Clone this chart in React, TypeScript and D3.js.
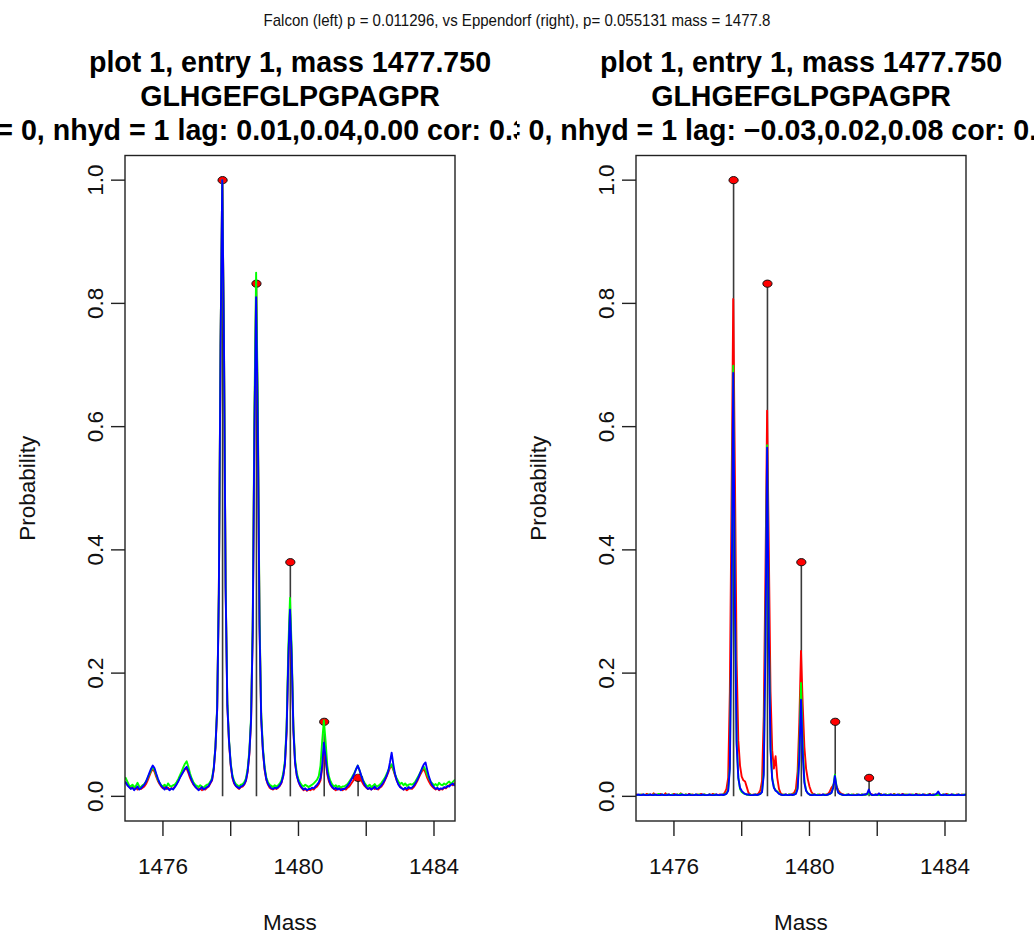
import React from "react";
import * as d3 from "d3";

// Spectra are sampled on a uniform mass grid.
const MASS_START = 1474.85;
const MASS_STEP = 0.05;

// Falcon replicates (left panel)
const falconRed = [
  0.024, 0.022, 0.019, 0.016, 0.013, 0.015, 0.012, 0.014, 0.011, 0.013,
  0.012, 0.014, 0.016, 0.020, 0.026, 0.033, 0.040, 0.045, 0.040, 0.032,
  0.025, 0.020, 0.016, 0.013, 0.015, 0.012, 0.014, 0.011, 0.013, 0.012,
  0.016, 0.020, 0.025, 0.031, 0.036, 0.040, 0.044, 0.045, 0.038, 0.030,
  0.024, 0.019, 0.016, 0.013, 0.011, 0.013, 0.010, 0.012, 0.011, 0.014,
  0.016, 0.021, 0.026, 0.044, 0.079, 0.140, 0.330, 0.730, 1.000, 0.745,
  0.340, 0.150, 0.088, 0.050, 0.030, 0.021, 0.017, 0.014, 0.012, 0.015,
  0.016, 0.019, 0.025, 0.040, 0.068, 0.120, 0.270, 0.600, 0.825, 0.620,
  0.285, 0.128, 0.074, 0.043, 0.027, 0.019, 0.014, 0.012, 0.011, 0.013,
  0.012, 0.014, 0.017, 0.022, 0.033, 0.052, 0.105, 0.220, 0.300, 0.225,
  0.108, 0.055, 0.034, 0.024, 0.017, 0.013, 0.010, 0.012, 0.009, 0.011,
  0.010, 0.012, 0.011, 0.014, 0.016, 0.020, 0.026, 0.045, 0.078, 0.058,
  0.036, 0.024, 0.018, 0.014, 0.012, 0.010, 0.012, 0.011, 0.013, 0.010,
  0.012, 0.011, 0.014, 0.016, 0.020, 0.024, 0.028, 0.032, 0.035, 0.031,
  0.026, 0.021, 0.017, 0.014, 0.012, 0.013, 0.011, 0.014, 0.012, 0.013,
  0.011, 0.014, 0.016, 0.020, 0.026, 0.032, 0.039, 0.046, 0.050, 0.043,
  0.034, 0.026, 0.020, 0.016, 0.013, 0.011, 0.012, 0.010, 0.012, 0.013,
  0.012, 0.015, 0.019, 0.024, 0.030, 0.036, 0.041, 0.045, 0.038, 0.030,
  0.024, 0.019, 0.016, 0.013, 0.011, 0.013, 0.010, 0.012, 0.011, 0.014,
  0.013, 0.016, 0.018, 0.020, 0.018, 0.021, 0.022,
];

const falconGreen = [
  0.028, 0.030, 0.024, 0.018, 0.016, 0.019, 0.015, 0.017, 0.022, 0.016,
  0.015, 0.018, 0.020, 0.024, 0.030, 0.036, 0.042, 0.048, 0.043, 0.035,
  0.027, 0.022, 0.018, 0.016, 0.019, 0.015, 0.021, 0.017, 0.016, 0.018,
  0.019, 0.023, 0.028, 0.034, 0.040, 0.047, 0.053, 0.057, 0.048, 0.037,
  0.029, 0.023, 0.019, 0.017, 0.015, 0.018, 0.016, 0.014, 0.017, 0.019,
  0.020, 0.024, 0.030, 0.047, 0.082, 0.145, 0.335, 0.735, 1.000, 0.750,
  0.345, 0.155, 0.092, 0.054, 0.034, 0.025, 0.020, 0.018, 0.016, 0.019,
  0.020, 0.023, 0.029, 0.045, 0.074, 0.128, 0.285, 0.630, 0.850, 0.640,
  0.295, 0.135, 0.080, 0.048, 0.031, 0.023, 0.019, 0.017, 0.015, 0.018,
  0.016, 0.018, 0.021, 0.026, 0.037, 0.058, 0.115, 0.240, 0.322, 0.240,
  0.115, 0.060, 0.038, 0.028, 0.022, 0.018, 0.016, 0.019, 0.017, 0.015,
  0.017, 0.019, 0.021, 0.024, 0.027, 0.033, 0.050, 0.090, 0.123, 0.090,
  0.050, 0.032, 0.024, 0.019, 0.016, 0.018, 0.015, 0.017, 0.014, 0.016,
  0.016, 0.018, 0.020, 0.024, 0.028, 0.033, 0.038, 0.044, 0.050, 0.042,
  0.034, 0.027, 0.022, 0.018, 0.016, 0.019, 0.015, 0.017, 0.020, 0.016,
  0.017, 0.019, 0.022, 0.026, 0.030, 0.036, 0.042, 0.048, 0.052, 0.044,
  0.036, 0.029, 0.024, 0.020, 0.022, 0.018, 0.021, 0.017, 0.019, 0.020,
  0.019, 0.021, 0.024, 0.029, 0.034, 0.039, 0.044, 0.048, 0.043, 0.035,
  0.029, 0.024, 0.021, 0.018, 0.020, 0.017, 0.022, 0.019, 0.018, 0.021,
  0.019, 0.022, 0.024, 0.020, 0.023, 0.026, 0.027,
];

const falconBlue = [
  0.020, 0.023, 0.018, 0.015, 0.012, 0.014, 0.010, 0.013, 0.016, 0.011,
  0.013, 0.016, 0.019, 0.024, 0.031, 0.038, 0.045, 0.050, 0.046, 0.037,
  0.029, 0.022, 0.017, 0.014, 0.011, 0.015, 0.012, 0.010, 0.013, 0.011,
  0.015, 0.019, 0.024, 0.030, 0.035, 0.040, 0.045, 0.048, 0.041, 0.033,
  0.026, 0.020, 0.016, 0.013, 0.010, 0.012, 0.015, 0.011, 0.013, 0.015,
  0.017, 0.022, 0.027, 0.045, 0.080, 0.142, 0.330, 0.730, 1.000, 0.740,
  0.338, 0.148, 0.090, 0.052, 0.032, 0.022, 0.017, 0.015, 0.013, 0.016,
  0.017, 0.020, 0.026, 0.041, 0.070, 0.122, 0.270, 0.595, 0.810, 0.600,
  0.278, 0.126, 0.075, 0.045, 0.028, 0.020, 0.016, 0.013, 0.012, 0.014,
  0.013, 0.015, 0.018, 0.023, 0.033, 0.053, 0.107, 0.222, 0.303, 0.226,
  0.108, 0.054, 0.034, 0.024, 0.018, 0.014, 0.011, 0.013, 0.010, 0.012,
  0.012, 0.014, 0.013, 0.016, 0.019, 0.023, 0.030, 0.050, 0.087, 0.064,
  0.040, 0.027, 0.019, 0.015, 0.012, 0.014, 0.011, 0.013, 0.010, 0.012,
  0.012, 0.014, 0.017, 0.021, 0.026, 0.031, 0.037, 0.044, 0.050, 0.043,
  0.034, 0.026, 0.019, 0.015, 0.012, 0.014, 0.011, 0.013, 0.016, 0.012,
  0.013, 0.015, 0.018, 0.022, 0.027, 0.033, 0.041, 0.055, 0.071, 0.052,
  0.036, 0.026, 0.019, 0.015, 0.013, 0.011, 0.014, 0.012, 0.015, 0.013,
  0.014, 0.017, 0.021, 0.026, 0.032, 0.039, 0.046, 0.052, 0.055, 0.043,
  0.032, 0.024, 0.018, 0.015, 0.012, 0.014, 0.011, 0.013, 0.012, 0.015,
  0.014, 0.017, 0.016, 0.019, 0.021, 0.018, 0.020,
];

// Eppendorf replicates (right panel)
const eppendorfRed = [
  0.002, 0.003, 0.002, 0.002, 0.003, 0.002, 0.002, 0.004, 0.002, 0.003,
  0.002, 0.005, 0.002, 0.003, 0.002, 0.004, 0.002, 0.002, 0.005, 0.002,
  0.003, 0.002, 0.002, 0.004, 0.002, 0.003, 0.002, 0.005, 0.002, 0.002,
  0.003, 0.002, 0.004, 0.002, 0.003, 0.002, 0.002, 0.003, 0.002, 0.004,
  0.002, 0.003, 0.002, 0.002, 0.003, 0.002, 0.004, 0.002, 0.003, 0.002,
  0.003, 0.002, 0.003, 0.006, 0.012, 0.030, 0.170, 0.480, 0.807, 0.520,
  0.220, 0.090, 0.050, 0.032, 0.026, 0.024, 0.015, 0.006, 0.003, 0.002,
  0.003, 0.002, 0.003, 0.005, 0.010, 0.025, 0.130, 0.360, 0.626, 0.400,
  0.170, 0.075, 0.045, 0.065, 0.030, 0.012, 0.005, 0.003, 0.002, 0.003,
  0.002, 0.003, 0.002, 0.004, 0.006, 0.012, 0.040, 0.120, 0.236, 0.150,
  0.080, 0.045, 0.028, 0.016, 0.008, 0.004, 0.003, 0.002, 0.002, 0.003,
  0.002, 0.003, 0.002, 0.003, 0.004, 0.008, 0.014, 0.018, 0.022, 0.016,
  0.010, 0.006, 0.004, 0.003, 0.002, 0.002, 0.003, 0.002, 0.002, 0.003,
  0.002, 0.003, 0.002, 0.002, 0.003, 0.002, 0.003, 0.004, 0.006, 0.004,
  0.003, 0.002, 0.002, 0.003, 0.002, 0.004, 0.002, 0.002, 0.003, 0.002,
  0.002, 0.003, 0.002, 0.004, 0.002, 0.002, 0.003, 0.002, 0.004, 0.002,
  0.003, 0.002, 0.002, 0.003, 0.002, 0.002, 0.004, 0.002, 0.003, 0.002,
  0.002, 0.003, 0.002, 0.002, 0.004, 0.002, 0.003, 0.002, 0.002, 0.003,
  0.002, 0.002, 0.003, 0.002, 0.004, 0.002, 0.002, 0.003, 0.002, 0.002,
  0.003, 0.002, 0.002, 0.003, 0.002, 0.002, 0.003,
];

const eppendorfGreen = [
  0.003, 0.002, 0.002, 0.003, 0.002, 0.003, 0.002, 0.002, 0.003, 0.002,
  0.002, 0.003, 0.002, 0.002, 0.004, 0.002, 0.003, 0.002, 0.002, 0.003,
  0.002, 0.002, 0.003, 0.002, 0.002, 0.003, 0.002, 0.004, 0.002, 0.002,
  0.003, 0.002, 0.002, 0.003, 0.002, 0.002, 0.003, 0.002, 0.003, 0.002,
  0.002, 0.003, 0.002, 0.002, 0.003, 0.002, 0.002, 0.003, 0.002, 0.002,
  0.002, 0.002, 0.003, 0.003, 0.005, 0.010, 0.050, 0.300, 0.699, 0.320,
  0.090, 0.030, 0.012, 0.007, 0.005, 0.004, 0.003, 0.002, 0.003, 0.002,
  0.002, 0.003, 0.002, 0.003, 0.004, 0.008, 0.040, 0.250, 0.570, 0.270,
  0.080, 0.030, 0.015, 0.010, 0.008, 0.005, 0.003, 0.002, 0.003, 0.002,
  0.002, 0.003, 0.002, 0.003, 0.003, 0.005, 0.015, 0.075, 0.184, 0.085,
  0.025, 0.010, 0.005, 0.003, 0.002, 0.003, 0.002, 0.002, 0.003, 0.002,
  0.002, 0.002, 0.003, 0.002, 0.003, 0.004, 0.006, 0.015, 0.035, 0.016,
  0.007, 0.004, 0.003, 0.002, 0.002, 0.003, 0.002, 0.002, 0.003, 0.002,
  0.002, 0.003, 0.002, 0.002, 0.003, 0.002, 0.003, 0.003, 0.005, 0.003,
  0.002, 0.002, 0.003, 0.002, 0.002, 0.003, 0.002, 0.002, 0.003, 0.002,
  0.003, 0.002, 0.002, 0.003, 0.002, 0.002, 0.003, 0.002, 0.002, 0.003,
  0.002, 0.003, 0.002, 0.002, 0.003, 0.002, 0.002, 0.003, 0.002, 0.002,
  0.003, 0.002, 0.002, 0.003, 0.002, 0.002, 0.003, 0.002, 0.002, 0.003,
  0.002, 0.002, 0.003, 0.002, 0.002, 0.003, 0.002, 0.002, 0.003, 0.002,
  0.002, 0.003, 0.002, 0.002, 0.003, 0.002, 0.002,
];

const eppendorfBlue = [
  0.002, 0.002, 0.003, 0.002, 0.002, 0.003, 0.002, 0.002, 0.002, 0.003,
  0.002, 0.002, 0.003, 0.002, 0.002, 0.002, 0.003, 0.002, 0.002, 0.002,
  0.003, 0.002, 0.002, 0.002, 0.003, 0.002, 0.002, 0.002, 0.003, 0.002,
  0.002, 0.002, 0.003, 0.002, 0.002, 0.002, 0.003, 0.002, 0.002, 0.002,
  0.003, 0.002, 0.002, 0.002, 0.003, 0.002, 0.002, 0.002, 0.003, 0.002,
  0.002, 0.003, 0.002, 0.003, 0.004, 0.009, 0.045, 0.290, 0.687, 0.310,
  0.085, 0.030, 0.014, 0.009, 0.006, 0.004, 0.003, 0.003, 0.002, 0.002,
  0.002, 0.003, 0.002, 0.003, 0.004, 0.007, 0.035, 0.240, 0.566, 0.260,
  0.075, 0.028, 0.014, 0.009, 0.007, 0.004, 0.003, 0.002, 0.002, 0.003,
  0.002, 0.002, 0.003, 0.002, 0.003, 0.004, 0.012, 0.060, 0.157, 0.070,
  0.022, 0.009, 0.005, 0.003, 0.002, 0.002, 0.003, 0.002, 0.002, 0.002,
  0.002, 0.003, 0.002, 0.002, 0.003, 0.004, 0.006, 0.014, 0.033, 0.015,
  0.006, 0.004, 0.003, 0.002, 0.002, 0.002, 0.003, 0.002, 0.002, 0.002,
  0.002, 0.002, 0.003, 0.002, 0.002, 0.003, 0.003, 0.004, 0.011, 0.004,
  0.002, 0.002, 0.003, 0.002, 0.005, 0.002, 0.002, 0.003, 0.002, 0.002,
  0.002, 0.003, 0.002, 0.002, 0.002, 0.003, 0.002, 0.002, 0.003, 0.002,
  0.002, 0.002, 0.003, 0.002, 0.002, 0.002, 0.003, 0.002, 0.002, 0.002,
  0.003, 0.002, 0.002, 0.002, 0.003, 0.002, 0.002, 0.003, 0.004, 0.008,
  0.003, 0.002, 0.002, 0.003, 0.002, 0.002, 0.002, 0.003, 0.002, 0.002,
  0.002, 0.003, 0.002, 0.002, 0.002, 0.003, 0.002,
];

// Theoretical isotope distribution
const isoMass = [1477.76, 1478.76, 1479.76, 1480.76, 1481.76];
const isoProb = [1.0, 0.832, 0.38, 0.121, 0.03];

const xTicks = [1476, 1478, 1480, 1482, 1484];
const xTickLabels = ["1476", "", "1480", "", "1484"];
const yTicks = [0, 0.2, 0.4, 0.6, 0.8, 1.0];
const yTickLabels = ["0.0", "0.2", "0.4", "0.6", "0.8", "1.0"];

const pageTitle =
  "Falcon (left) p = 0.011296, vs Eppendorf (right), p= 0.055131 mass = 1477.8";
const mainLine1 = "plot 1, entry 1, mass 1477.750";
const mainLine2 = "GLHGEFGLPGPAGPR";
const leftLine3 = "ndeam = 0, nhyd = 1 lag: 0.01,0.04,0.00 cor: 0.38,0.41,0.36";
const rightLine3 = "ndeam = 0, nhyd = 1 lag: \u22120.03,0.02,0.08 cor: 0.05,0.07,0.06";

const traceColors = ["#ff0000", "#00ff00", "#0000ff"];
const FONT = "'Liberation Sans', Arial, Helvetica, sans-serif";

const xDomain: [number, number] = [1474.88, 1484.62];
const yDomain: [number, number] = [-0.04, 1.04];
const PLOT_TOP = 155.5;
const PLOT_BOTTOM = 821;
const PLOT_W = 330;

type PanelProps = {
  id: string;
  left: number;
  clipX0: number;
  clipX1: number;
  line3: string;
  line3Shift: number;
  traces: number[][];
};

function Panel({ id, left, clipX0, clipX1, line3, line3Shift, traces }: PanelProps) {
  const x = d3.scaleLinear().domain(xDomain).range([left, left + PLOT_W]);
  const y = d3.scaleLinear().domain(yDomain).range([PLOT_BOTTOM, PLOT_TOP]);
  const cx = left + PLOT_W / 2;
  const line = d3
    .line<number>()
    .x((_, i) => x(MASS_START + i * MASS_STEP))
    .y((v) => y(v));

  return (
    <g>
      <defs>
        <clipPath id={`plot-${id}`}>
          <rect x={left} y={PLOT_TOP} width={PLOT_W} height={PLOT_BOTTOM - PLOT_TOP} />
        </clipPath>
        <clipPath id={`fig-${id}`}>
          <rect x={clipX0} y={0} width={clipX1 - clipX0} height={939} />
        </clipPath>
      </defs>

      {/* titles */}
      <g clipPath={`url(#fig-${id})`} fontFamily={FONT} fontWeight="bold" fontSize={28.6} textAnchor="middle" fill="#000">
        <text x={cx} y={72}>{mainLine1}</text>
        <text x={cx} y={106}>{mainLine2}</text>
        <text x={cx + line3Shift} y={140}>{line3}</text>
      </g>

      <g clipPath={`url(#plot-${id})`}>
        {/* theoretical sticks */}
        {isoMass.map((m, i) => (
          <line key={`s${i}`} x1={x(m)} x2={x(m)} y1={y(0)} y2={y(isoProb[i])} stroke="#3a3a3a" strokeWidth={1.6} />
        ))}
        {isoMass.map((m, i) => (
          <ellipse key={`d${i}`} cx={x(m)} cy={y(isoProb[i])} rx={4.6} ry={3.6} fill="#ff0000" stroke="#111" strokeWidth={1} />
        ))}
        {/* observed replicates */}
        {traces.map((t, i) => (
          <path key={`t${i}`} d={line(t) ?? ""} fill="none" stroke={traceColors[i]} strokeWidth={1.9} strokeLinejoin="round" />
        ))}
      </g>

      {/* frame */}
      <rect x={left} y={PLOT_TOP} width={PLOT_W} height={PLOT_BOTTOM - PLOT_TOP} fill="none" stroke="#222" strokeWidth={1.4} />

      {/* x axis */}
      <g fontFamily={FONT} fontSize={22.5} textAnchor="middle" fill="#111">
        {xTicks.map((t, i) => (
          <g key={`xt${i}`}>
            <line x1={x(t)} x2={x(t)} y1={PLOT_BOTTOM} y2={PLOT_BOTTOM + 15} stroke="#222" strokeWidth={1.4} />
            {xTickLabels[i] && (
              <text x={x(t)} y={874}>{xTickLabels[i]}</text>
            )}
          </g>
        ))}
        <text x={cx} y={930}>Mass</text>
      </g>

      {/* y axis */}
      <g fontFamily={FONT} fontSize={22.5} textAnchor="middle" fill="#111">
        {yTicks.map((t, i) => (
          <g key={`yt${i}`}>
            <line x1={left - 14} x2={left} y1={y(t)} y2={y(t)} stroke="#222" strokeWidth={1.4} />
            <text transform={`translate(${left - 22},${y(t)}) rotate(-90)`}>{yTickLabels[i]}</text>
          </g>
        ))}
        <text transform={`translate(${left - 90},${(PLOT_TOP + PLOT_BOTTOM) / 2}) rotate(-90)`}>Probability</text>
      </g>
    </g>
  );
}

export default function App() {
  return (
    <svg
      width={1034}
      height={939}
      viewBox="0 0 1034 939"
      style={{ position: "absolute", left: 0, top: 0, background: "#fff" }}
    >
      <rect x={0} y={0} width={1034} height={939} fill="#fff" />
      <text
        x={517}
        y={26}
        textAnchor="middle"
        fontFamily={FONT}
        fontSize={17}
        textLength={507}
        lengthAdjust="spacingAndGlyphs"
        fill="#111"
      >
        {pageTitle}
      </text>
      <Panel id="falcon" left={125} clipX0={0} clipX1={517} line3={leftLine3} line3Shift={-6} traces={[falconRed, falconGreen, falconBlue]} />
      <Panel id="eppendorf" left={636} clipX0={517} clipX1={1034} line3={rightLine3} line3Shift={-1} traces={[eppendorfRed, eppendorfGreen, eppendorfBlue]} />
    </svg>
  );
}
